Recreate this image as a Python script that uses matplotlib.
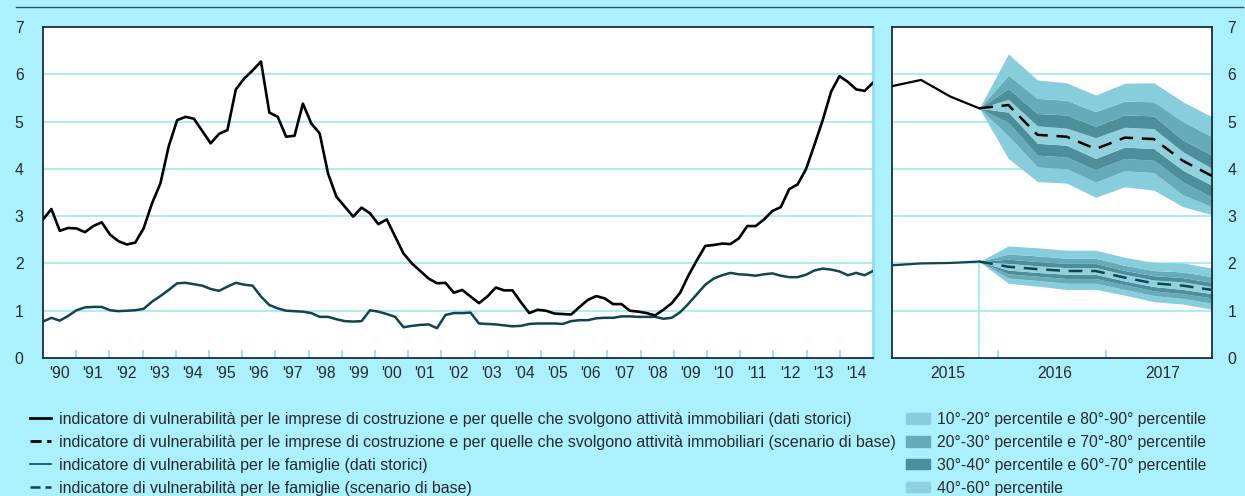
import numpy as np
import matplotlib
matplotlib.use("Agg")
import matplotlib.pyplot as plt
from matplotlib.lines import Line2D
from matplotlib.patches import Patch

plt.rcParams['font.family'] = ['Liberation Sans', 'DejaVu Sans']

# quarterly history 1990Q1 - 2014Q4
costruzioni = [2.93, 3.15, 2.69, 2.75, 2.74, 2.66, 2.79, 2.87, 2.61, 2.47,
               2.40, 2.44, 2.74, 3.27, 3.69, 4.48, 5.03, 5.10, 5.06, 4.80,
               4.54, 4.74, 4.82, 5.68, 5.91, 6.08, 6.27, 5.19, 5.10, 4.68,
               4.70, 5.38, 4.96, 4.75, 3.90, 3.41, 3.20, 2.99, 3.18, 3.06,
               2.83, 2.93, 2.57, 2.21, 2.00, 1.84, 1.68, 1.58, 1.59, 1.38,
               1.44, 1.30, 1.16, 1.30, 1.49, 1.43, 1.43, 1.18, 0.95, 1.02,
               1.00, 0.94, 0.93, 0.92, 1.08, 1.23, 1.31, 1.26, 1.14, 1.14,
               1.00, 0.98, 0.95, 0.90, 1.02, 1.16, 1.38, 1.75, 2.07, 2.37,
               2.39, 2.42, 2.41, 2.53, 2.79, 2.79, 2.93, 3.11, 3.19, 3.57,
               3.67, 3.99, 4.50, 5.03, 5.63, 5.96, 5.84, 5.68, 5.65, 5.82]
famiglie = [0.77, 0.85, 0.79, 0.89, 1.01, 1.07, 1.08, 1.08, 1.01, 0.99,
            1.00, 1.01, 1.04, 1.19, 1.31, 1.44, 1.58, 1.59, 1.56, 1.53,
            1.46, 1.42, 1.51, 1.59, 1.55, 1.53, 1.30, 1.12, 1.05, 1.00,
            0.99, 0.98, 0.95, 0.87, 0.87, 0.82, 0.78, 0.77, 0.78, 1.01,
            0.98, 0.93, 0.87, 0.65, 0.68, 0.70, 0.71, 0.63, 0.91, 0.95,
            0.95, 0.96, 0.73, 0.72, 0.71, 0.69, 0.67, 0.68, 0.72, 0.73,
            0.73, 0.73, 0.72, 0.78, 0.80, 0.80, 0.84, 0.85, 0.85, 0.88,
            0.88, 0.87, 0.87, 0.87, 0.83, 0.85, 0.97, 1.15, 1.35, 1.55,
            1.68, 1.75, 1.80, 1.77, 1.76, 1.74, 1.77, 1.79, 1.74, 1.71,
            1.71, 1.76, 1.85, 1.89, 1.87, 1.83, 1.75, 1.80, 1.75, 1.84]
anni = ["'90", "'91", "'92", "'93", "'94", "'95", "'96", "'97", "'98", "'99",
        "'00", "'01", "'02", "'03", "'04", "'05", "'06", "'07", "'08", "'09",
        "'10", "'11", "'12", "'13", "'14"]

# right panel: 12 quarters, first 4 historical, scenario from the 4th
cost_storico = [5.75, 5.88, 5.53, 5.28]
fam_storico = [1.96, 2.00, 2.01, 2.04]
cost_pct = {
    10: [5.28, 4.22, 3.73, 3.70, 3.40, 3.62, 3.55, 3.20, 3.03],
    20: [5.28, 4.70, 4.04, 4.00, 3.72, 3.96, 3.92, 3.45, 3.20],
    30: [5.28, 4.98, 4.29, 4.25, 3.98, 4.22, 4.18, 3.72, 3.40],
    40: [5.28, 5.20, 4.54, 4.50, 4.22, 4.46, 4.43, 3.97, 3.65],
    50: [5.28, 5.35, 4.72, 4.68, 4.42, 4.66, 4.63, 4.17, 3.85],
    60: [5.28, 5.47, 4.91, 4.86, 4.66, 4.88, 4.85, 4.36, 4.01],
    70: [5.28, 5.70, 5.17, 5.14, 4.90, 5.14, 5.12, 4.61, 4.29],
    80: [5.28, 5.98, 5.49, 5.45, 5.21, 5.43, 5.42, 5.00, 4.68],
    90: [5.28, 6.43, 5.88, 5.82, 5.56, 5.81, 5.82, 5.42, 5.10],
}
fam_pct = {
    10: [2.04, 1.58, 1.52, 1.45, 1.45, 1.33, 1.19, 1.14, 1.03],
    20: [2.04, 1.69, 1.64, 1.58, 1.58, 1.45, 1.32, 1.26, 1.16],
    30: [2.04, 1.78, 1.73, 1.68, 1.68, 1.55, 1.42, 1.36, 1.27],
    40: [2.04, 1.86, 1.81, 1.77, 1.77, 1.63, 1.51, 1.45, 1.36],
    50: [2.04, 1.93, 1.88, 1.84, 1.84, 1.70, 1.58, 1.53, 1.44],
    60: [2.04, 2.00, 1.95, 1.91, 1.91, 1.77, 1.65, 1.61, 1.51],
    70: [2.04, 2.09, 2.04, 2.00, 2.00, 1.85, 1.74, 1.70, 1.60],
    80: [2.04, 2.20, 2.16, 2.11, 2.11, 1.96, 1.85, 1.82, 1.72],
    90: [2.04, 2.37, 2.33, 2.28, 2.28, 2.13, 2.02, 2.01, 1.90],
}
anni_prev = ['2015', '2016', '2017']

bg = '#aaf0fd'
grid_c = '#a4ebf6'
c_out = '#88cddb'
c_mid = '#65abb9'
c_dark = '#4d8e9b'
c_in = '#8fd2de'
teal = '#0f4450'
txt = '#2a2a2a'
fs = 11.3

W, H = 1245, 496
fig = plt.figure(figsize=(W / 100, H / 100), dpi=100, facecolor=bg)

fig.add_artist(Line2D([16 / W, 1243 / W], [1 - 7 / H, 1 - 7 / H], color='#2b5560', lw=1))

# ---- left panel
ax = fig.add_axes([43 / W, 1 - 358 / H, 830 / W, 331 / H])
x = np.linspace(1990, 2015, len(costruzioni))
ax.set_xlim(1990, 2015)
ax.set_ylim(0, 7)
for v in range(1, 7):
    ax.axhline(v, color=grid_c, lw=1.3, zorder=1)
ax.plot(x, famiglie, color=teal, lw=1.8, zorder=3)
ax.plot(x, costruzioni, color='black', lw=1.9, zorder=4)
ax.set_xticks(np.arange(1991, 2015), minor=True)
ax.set_xticks(np.arange(1990, 2015) + 0.5)
ax.set_xticklabels(anni)
ax.tick_params(axis='x', which='major', length=0, pad=6, labelsize=fs, labelcolor=txt)
ax.tick_params(axis='x', which='minor', direction='in', length=6, width=1.3, color='#8fdff0')
ax.set_yticks(range(0, 8))
ax.tick_params(axis='y', length=0, pad=14, labelsize=fs, labelcolor=txt)
for s in ['left', 'bottom', 'top']:
    ax.spines[s].set_color('#1a2f35')
    ax.spines[s].set_linewidth(1.3)
ax.spines['right'].set_color('#8fdff0')
ax.spines['right'].set_linewidth(2)

# ---- right panel
ax2 = fig.add_axes([892 / W, 1 - 358 / H, 320 / W, 331 / H])
xq = np.arange(12)
xf = xq[3:]
ax2.set_xlim(0, 11)
ax2.set_ylim(0, 7)
for v in range(1, 7):
    ax2.axhline(v, color=grid_c, lw=1.3, zorder=1)
ax2.vlines(3, 0, fam_storico[-1], color=grid_c, lw=1.3, zorder=1)

bands = [(10, 20, c_out), (20, 30, c_mid), (30, 40, c_dark), (40, 60, c_in),
         (60, 70, c_dark), (70, 80, c_mid), (80, 90, c_out)]
for pct in [cost_pct, fam_pct]:
    for lo, hi, col in bands:
        ax2.fill_between(xf, pct[lo], pct[hi], color=col, lw=0, zorder=2)

ax2.plot(xq[:4], cost_storico, color='black', lw=1.6, zorder=4)
ax2.plot(xf, cost_pct[50], color='black', lw=1.8, dashes=(5.5, 3.5), zorder=4)
ax2.plot(xq[:4], fam_storico, color=teal, lw=1.6, zorder=4)
ax2.plot(xf, fam_pct[50], color=teal, lw=1.8, dashes=(5.5, 3.5), zorder=4)

ax2.set_xticks([3.65, 7.35], minor=True)
ax2.set_xticks([1.93, 5.6, 9.3])
ax2.set_xticklabels(anni_prev)
ax2.tick_params(axis='x', which='major', length=0, pad=6, labelsize=fs, labelcolor=txt)
ax2.tick_params(axis='x', which='minor', direction='in', length=6, width=1.3, color='#8fdff0')
ax2.set_yticks(range(0, 8))
ax2.yaxis.tick_right()
ax2.tick_params(axis='y', length=0, pad=11, labelsize=fs, labelcolor=txt)
for s in ax2.spines.values():
    s.set_color('#1a2f35')
    s.set_linewidth(1.3)

# ---- legends
h1 = [Line2D([], [], color='black', lw=2),
      Line2D([], [], color='black', lw=2, dashes=(4, 2)),
      Line2D([], [], color=teal, lw=1.2),
      Line2D([], [], color=teal, lw=1.8, dashes=(4, 2))]
l1 = ["indicatore di vulnerabilità per le imprese di costruzione e per quelle che svolgono attività immobiliari (dati storici)",
      "indicatore di vulnerabilità per le imprese di costruzione e per quelle che svolgono attività immobiliari (scenario di base)",
      "indicatore di vulnerabilità per le famiglie (dati storici)",
      "indicatore di vulnerabilità per le famiglie (scenario di base)"]
fig.legend(h1, l1, loc='upper left', bbox_to_anchor=(30 / W, 1 - 412 / H), frameon=False,
           borderpad=0, borderaxespad=0, handlelength=1.3, handletextpad=0.5,
           labelspacing=0.5, fontsize=11.5, labelcolor=txt)

h2 = [Patch(color=c_out), Patch(color=c_mid), Patch(color=c_dark), Patch(color=c_in)]
l2 = ["10°-20° percentile e 80°-90° percentile",
      "20°-30° percentile e 70°-80° percentile",
      "30°-40° percentile e 60°-70° percentile",
      "40°-60° percentile"]
fig.legend(h2, l2, loc='upper left', bbox_to_anchor=(906 / W, 1 - 412 / H), frameon=False,
           borderpad=0, borderaxespad=0, handlelength=1.5, handleheight=0.65, handletextpad=0.5,
           labelspacing=0.5, fontsize=fs, labelcolor=txt)

fig.savefig('out.png', dpi=100, facecolor=bg)
